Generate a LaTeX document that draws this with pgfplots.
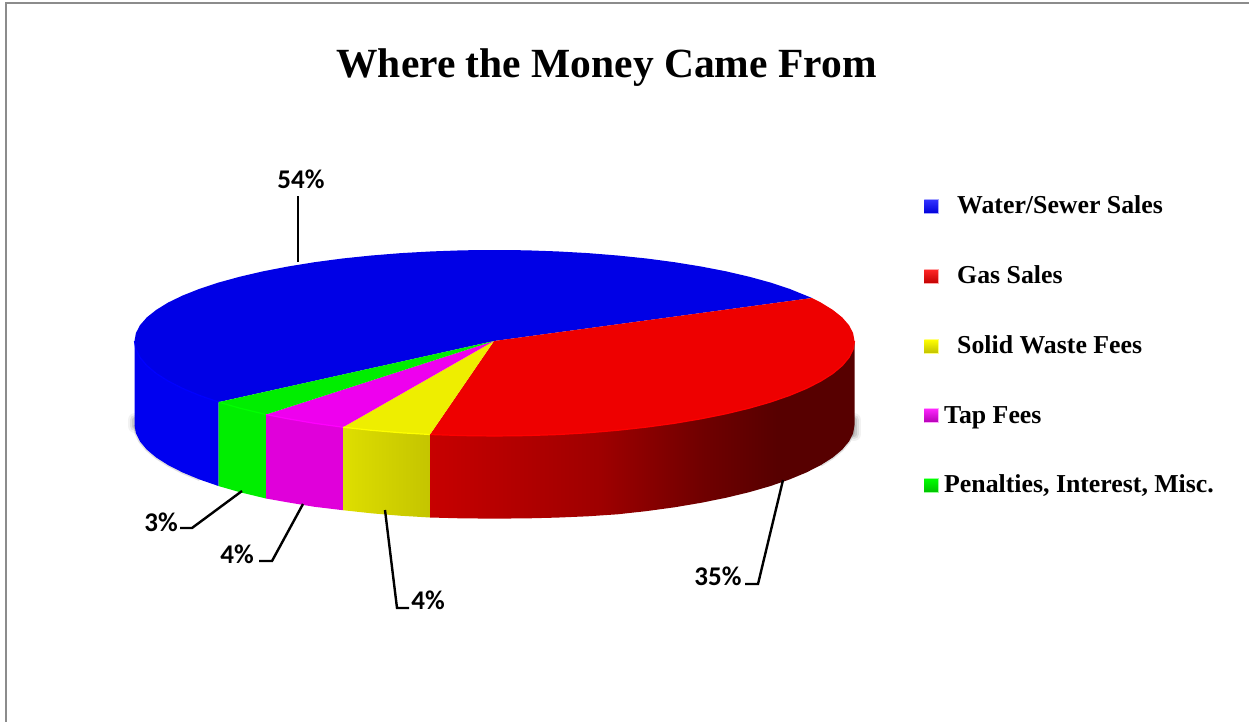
\documentclass[border=0pt]{standalone}
\usepackage{fontspec}
\setmainfont{Liberation Serif}
\newfontfamily\calibri{Carlito}
\usepackage{pgfplots}
\pgfplotsset{compat=1.18}

\definecolor{bluetop}{HTML}{0000E6}
\definecolor{blueside}{HTML}{0000F0}
\definecolor{redtop}{HTML}{EE0000}
\definecolor{yellowtop}{HTML}{EEEE00}
\definecolor{yellowb}{HTML}{FFFF00}
\definecolor{magentatop}{HTML}{EE00EE}
\definecolor{magentab}{HTML}{FF00FF}
\definecolor{magentaside}{HTML}{E000DA}
\definecolor{greentop}{HTML}{00EE00}
\definecolor{framegray}{HTML}{8C8C8C}

% side shadings: the path's box fills 25bp..75bp
\pgfdeclarehorizontalshading{redside}{100bp}{
  color(0bp)=(red!78!black); color(25bp)=(red!78!black);
  color(45bp)=(red!62!black); color(57bp)=(red!44!black);
  color(66bp)=(red!34!black); color(100bp)=(red!34!black)}
\pgfdeclarehorizontalshading{yellowside}{100bp}{
  color(0bp)=(yellowb!87!black); color(25bp)=(yellowb!87!black);
  color(75bp)=(yellowb!77!black); color(100bp)=(yellowb!77!black)}

\begin{document}
\begin{tikzpicture}
\begin{axis}[
  scale only axis, width=1249pt, height=722pt,
  xmin=0, xmax=1249, ymin=0, ymax=722, y dir=reverse,
  hide axis, no markers,
]
% keep the whole axis box in the page
\path (axis cs:0,0) rectangle (axis cs:1249,722);

% frame of the screenshot
\addplot[framegray, line width=2.5pt] coordinates {(6,722) (6,3) (1249,3)};

% soft shadow under the pie
\addplot[black, opacity=0.05, line width=14pt, line cap=round] coordinates {(135,420) (135,426)};
\addplot[black, opacity=0.08, line width=10pt, line cap=round] coordinates {(135,420) (135,426)};
\addplot[black, opacity=0.1, line width=6pt, line cap=round] coordinates {(135,420) (135,426)};
\addplot[black, opacity=0.05, line width=14pt, line cap=round] coordinates {(854,420) (854,434)};
\addplot[black, opacity=0.08, line width=10pt, line cap=round] coordinates {(854,420) (854,434)};
\addplot[black, opacity=0.1, line width=6pt, line cap=round] coordinates {(854,420) (854,434)};
\addplot[black, opacity=0.12, line width=3pt] coordinates {(135,425) (136,433.3) (140,441.5) (146.8,449.6) (156.2,457.5) (168.2,465.1) (182.7,472.5) (199.6,479.5)};
\addplot[black, opacity=0.12, line width=3pt] coordinates {(854,425) (853.1,433.3) (849,441.5) (842.2,449.6) (832.8,457.5) (820.8,465.1)};

% sides
\addplot[fill=blueside, draw=none] coordinates {(134.5,341) (135.9,349.3) (140,357.5) (146.8,365.6) (156.2,373.5) (168.2,381.1) (182.7,388.5) (199.6,395.5) (218.7,402.1) (218.7,486.1) (199.6,479.5) (182.7,472.5) (168.2,465.1) (156.2,457.5) (146.8,449.6) (140,441.5) (135.9,433.3) (134.5,425)};
\addplot[fill=greentop, draw=none] coordinates {(218.7,402.1) (239.9,408.2) (263.1,413.8) (266,414.5) (266,498.5) (263.1,497.8) (239.9,492.2) (218.7,486.1)};
\addplot[fill=magentaside, draw=none] coordinates {(266,414.5) (288,418.8) (314.5,423.3) (343,427.2) (343,510.2) (314.5,506.8) (288,502.4) (266,498.5)};
\addplot[shade, shading=yellowside, draw=none] coordinates {(343,427.2) (371.4,430.3) (401.3,432.8) (430,434.5) (430,517.5) (401.3,515.8) (371.4,513.3) (343,510.2)};
\addplot[shade, shading=redside, draw=none] coordinates {(430,434.5) (463.1,435.6) (494.5,436) (525.9,435.6) (557,434.6) (587.7,432.8) (617.6,430.3) (646.6,427.1) (674.5,423.3) (701,418.8) (725.9,413.8) (749.1,408.2) (770.3,402.1) (789.4,395.5) (806.3,388.5) (820.8,381.1) (832.8,373.5) (842.2,365.6) (849,357.5) (853.1,349.3) (854.5,341) (854.5,425) (853.1,433.3) (849,441.5) (842.2,449.6) (832.8,457.5) (820.8,465.1) (806.3,472.5) (789.4,479.5) (770.3,486.1) (749.1,492.2) (725.9,497.8) (701,502.8) (674.5,507.3) (646.6,511.1) (617.6,514.3) (587.7,516.3) (557,517.6) (525.9,518.4) (494.5,518.6) (463.1,518.4) (430,517.5)};

% top faces
\addplot[fill=bluetop, draw=none] coordinates {(494,341) (218.7,402.1) (199.6,395.5) (182.7,388.5) (168.2,381.1) (156.2,373.5) (146.8,365.6) (140,357.5) (135.9,349.3) (134.5,341) (135.9,333.1) (140,325.2) (146.8,317.4) (156.2,309.9) (168.2,302.5) (182.7,295.5) (199.6,288.8) (218.7,282.5) (239.9,276.7) (263.1,271.3) (288,266.5) (314.5,262.2) (342.4,258.5) (371.4,255.5) (401.3,253.1) (432,251.4) (463.1,250.3) (494.5,250) (525.9,250.3) (557,251.4) (587.7,253.1) (617.6,255.5) (646.6,258.5) (674.5,262.2) (701,266.5) (725.9,271.3) (749.1,276.7) (770.3,282.5) (789.4,288.8) (812,298)};
\addplot[fill=redtop, draw=none] coordinates {(494,341) (812,298) (820.8,302.5) (832.8,309.9) (842.2,317.4) (849,325.2) (853.1,333.1) (854.5,341) (853.1,349.3) (849,357.5) (842.2,365.6) (832.8,373.5) (820.8,381.1) (806.3,388.5) (789.4,395.5) (770.3,402.1) (749.1,408.2) (725.9,413.8) (701,418.8) (674.5,423.3) (646.6,427.1) (617.6,430.3) (587.7,432.8) (557,434.6) (525.9,435.6) (494.5,436) (463.1,435.6) (430,434.5)};
\addplot[fill=yellowtop, draw=none] coordinates {(494,341) (430,434.5) (401.3,432.8) (371.4,430.3) (343,427.2)};
\addplot[fill=magentatop, draw=none] coordinates {(494,341) (343,427.2) (314.5,423.3) (288,418.8) (266,414.5)};
\addplot[fill=greentop, draw=none] coordinates {(494,341) (266,414.5) (263.1,413.8) (239.9,408.2) (218.7,402.1)};

% bevel along the front edge
\addplot[blue, line width=1.2pt] coordinates {(134.5,341) (135.9,349.3) (140,357.5) (146.8,365.6) (156.2,373.5) (168.2,381.1) (182.7,388.5) (199.6,395.5) (218.7,402.1)};
\addplot[green, line width=1.2pt] coordinates {(218.7,402.1) (239.9,408.2) (263.1,413.8) (266,414.5)};
\addplot[magentab, line width=1.2pt] coordinates {(266,414.5) (288,418.8) (314.5,423.3) (343,427.2)};
\addplot[yellowb, line width=1.2pt] coordinates {(343,427.2) (371.4,430.3) (401.3,432.8) (430,434.5)};
\addplot[red, line width=1.2pt] coordinates {(430,434.5) (463.1,435.6) (494.5,436) (525.9,435.6) (557,434.6) (587.7,432.8) (617.6,430.3) (646.6,427.1) (674.5,423.3) (701,418.8) (725.9,413.8) (749.1,408.2) (770.3,402.1) (789.4,395.5) (806.3,388.5) (820.8,381.1) (832.8,373.5) (842.2,365.6) (849,357.5) (853.1,349.3) (854.5,341)};

% leader lines
\addplot[black, line width=2.4pt] coordinates {(298,262) (298,196)};
\addplot[black, line width=2.4pt] coordinates {(242,491) (192,528) (180,528)};
\addplot[black, line width=2.4pt] coordinates {(303,504) (272,561) (259,561)};
\addplot[black, line width=2.4pt] coordinates {(385,510) (397,608) (409,608)};
\addplot[black, line width=2.4pt] coordinates {(783,480) (758,584) (745,584)};

% legend keys
\addplot[top color=blue!80!white, bottom color=blue!85!black, draw=blue!35!white, line width=1pt] coordinates {(924.5,199.5) (938.5,199.5) (938.5,213.5) (924.5,213.5)};
\addplot[top color=red!85!white, bottom color=red!75!black, draw=red!35!white, line width=1pt] coordinates {(924.5,269.5) (938.5,269.5) (938.5,283.5) (924.5,283.5)};
\addplot[top color=yellowb, bottom color=yellowb!75!black, draw=yellowb!50!white, line width=1pt] coordinates {(924.5,339.5) (938.5,339.5) (938.5,353.5) (924.5,353.5)};
\addplot[top color=magentab!85!white, bottom color=magentab!70!black, draw=magentab!35!white, line width=1pt] coordinates {(924.5,408.5) (938.5,408.5) (938.5,422.5) (924.5,422.5)};
\addplot[top color=green, bottom color=green!75!black, draw=green!40!white, line width=1pt] coordinates {(924.5,478.5) (938.5,478.5) (938.5,492.5) (924.5,492.5)};

% texts
\node[anchor=base, font=\fontsize{41.5}{48}\selectfont\bfseries] at (axis cs:606.5,78) {Where the Money Came From};

\node[font=\fontsize{27}{30}\selectfont\calibri\bfseries] at (axis cs:301,179) {54\%};
\node[font=\fontsize{27}{30}\selectfont\calibri\bfseries] at (axis cs:161,522) {3\%};
\node[font=\fontsize{27}{30}\selectfont\calibri\bfseries] at (axis cs:237,554) {4\%};
\node[font=\fontsize{27}{30}\selectfont\calibri\bfseries] at (axis cs:428,600) {4\%};
\node[font=\fontsize{27}{30}\selectfont\calibri\bfseries] at (axis cs:718,576) {35\%};

\node[anchor=base west, inner sep=0pt, font=\fontsize{25.8}{28}\selectfont\bfseries] at (axis cs:957,213) {Water/Sewer Sales};
\node[anchor=base west, inner sep=0pt, font=\fontsize{25.8}{28}\selectfont\bfseries] at (axis cs:957,283) {Gas Sales};
\node[anchor=base west, inner sep=0pt, font=\fontsize{25.8}{28}\selectfont\bfseries] at (axis cs:957,353) {Solid Waste Fees};
\node[anchor=base west, inner sep=0pt, font=\fontsize{25.8}{28}\selectfont\bfseries] at (axis cs:944,423) {Tap Fees};
\node[anchor=base west, inner sep=0pt, font=\fontsize{25.8}{28}\selectfont\bfseries] at (axis cs:944,492) {Penalties, Interest, Misc.};
\end{axis}
\end{tikzpicture}
\end{document}
